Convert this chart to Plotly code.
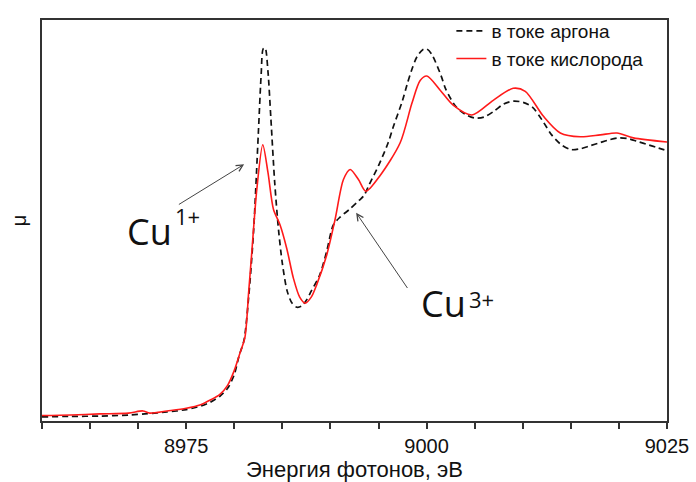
import plotly.graph_objects as go

# Cu K-edge XANES, normalized absorption
energy_ar = [8960, 8963, 8966, 8969, 8971, 8973, 8975, 8976.5, 8977.5, 8978.5, 8979.3,
             8980, 8980.5, 8981, 8981.5, 8982, 8982.5, 8982.8, 8983.0, 8983.2, 8983.5,
             8983.8, 8984.2, 8984.6, 8985.0, 8985.5, 8986.0, 8986.5, 8987.0, 8987.5,
             8988.0, 8988.9, 8989.6, 8990.3, 8991.0, 8992.0, 8993.0, 8993.5, 8994.0,
             8995.0, 8996.0, 8996.5, 8997.5, 8998.0, 8998.5, 8999.0, 8999.6, 9000.0,
             9000.5, 9001.5, 9002.0, 9003.0, 9004.0, 9005.0, 9006.0, 9007.0, 9008.0,
             9009.0, 9010.0, 9011.0, 9012.0, 9013.0, 9014.0, 9015.0, 9016.0, 9017.0,
             9018.0, 9019.0, 9020.0, 9021.0, 9022.0, 9023.0, 9024.0, 9025.0]
mu_ar = [-0.007, -0.005, -0.004, 0.000, 0.005, 0.011, 0.020, 0.033, 0.047, 0.069, 0.098,
         0.149, 0.218, 0.273, 0.436, 0.673, 1.036, 1.255, 1.345, 1.349, 1.262,
         1.091, 0.855, 0.680, 0.556, 0.455, 0.411, 0.396, 0.400, 0.422,
         0.455, 0.516, 0.600, 0.698, 0.727, 0.756, 0.789, 0.807, 0.844,
         0.916, 1.000, 1.055, 1.156, 1.218, 1.273, 1.316, 1.342, 1.345,
         1.327, 1.247, 1.196, 1.135, 1.105, 1.091, 1.095, 1.116, 1.142,
         1.153, 1.149, 1.131, 1.084, 1.029, 0.993, 0.975, 0.978, 0.989,
         1.000, 1.011, 1.018, 1.015, 1.004, 0.993, 0.982, 0.971]

energy_o2 = [8960, 8963, 8966, 8969, 8970.5, 8971.2, 8973, 8975, 8976.5, 8977.5, 8978.5,
             8979.3, 8980, 8980.6, 8981.1, 8981.5, 8981.8, 8982.34, 8982.96, 8983.5,
             8984.07, 8984.76, 8985.46, 8986.15, 8986.8, 8987.37, 8988.0, 8988.58,
             8989.62, 8990.49, 8991.35, 8992.05, 8992.91, 8993.68, 8995.17, 8997.25,
             8998.47, 8999.33, 9000.03, 9001.41, 9002.76, 9004.71, 9006.93, 9009.0,
             9010.26, 9012.13, 9013.9, 9015.98, 9018.06, 9019.8, 9021.5, 9025.0]
mu_o2 = [-0.002, 0.000, 0.004, 0.007, 0.015, 0.007, 0.015, 0.025, 0.038, 0.055, 0.076,
         0.109, 0.164, 0.229, 0.284, 0.455, 0.589, 0.829, 0.993, 0.891,
         0.756, 0.698, 0.611, 0.502, 0.433, 0.411, 0.433, 0.480,
         0.589, 0.720, 0.865, 0.902, 0.865, 0.822, 0.880, 1.000,
         1.145, 1.229, 1.245, 1.193, 1.138, 1.102, 1.156, 1.200,
         1.189, 1.098, 1.036, 1.022, 1.029, 1.036, 1.018, 1.003]

series_names = ["в токе аргона", "в токе кислорода"]
x_ticks = list(range(8960, 9026, 5))
x_labels = ["8975", "9000", "9025"]

sans = "Liberation Sans, Arial"

fig = go.Figure()
fig.add_trace(go.Scatter(x=energy_ar, y=mu_ar, mode="lines", name=series_names[0],
                         line=dict(color="#111111", width=1.7, dash="6px,4px",
                                   shape="spline", smoothing=0.8)))
fig.add_trace(go.Scatter(x=energy_o2, y=mu_o2, mode="lines", name=series_names[1],
                         line=dict(color="#ff1a1a", width=1.6,
                                   shape="spline", smoothing=0.8)))

ticktext = [str(v) if str(v) in x_labels else "" for v in x_ticks]

fig.update_xaxes(range=[8960, 9025], tickvals=x_ticks, ticktext=ticktext,
                 ticks="outside", ticklen=6, tickwidth=1.5, tickcolor="#333",
                 showline=True, linewidth=2, linecolor="#333", mirror=True,
                 showgrid=False, zeroline=False, automargin=False,
                 tickfont=dict(family=sans, size=20, color="#111"),
                 title=dict(text="Энергия фотонов, эВ",
                            font=dict(family=sans, size=22, color="#111"),
                            standoff=6))
fig.update_yaxes(range=[-0.022, 1.451], showticklabels=False, ticks="",
                 showline=True, linewidth=2, linecolor="#333", mirror=True,
                 showgrid=False, zeroline=False, automargin=False,
                 title=dict(text="μ", font=dict(family=sans, size=20, color="#111"),
                            standoff=8))

label_font = dict(family="Open Sans, Noto Sans, Arial", size=36, color="#111")
sup_font = dict(family="Open Sans, Noto Sans, Arial", size=22, color="#111")

# Cu(I) label and arrow to the pre-edge peak
fig.add_annotation(x=8971.13, y=0.673, text="Cu", showarrow=False, font=label_font)
fig.add_annotation(x=8975.1, y=0.731, text="1+", showarrow=False, font=sup_font)
fig.add_annotation(x=8981.02, y=0.921, ax=8974.08, ay=0.770, axref="x", ayref="y",
                   text="", showarrow=True, arrowhead=5, arrowsize=1.3,
                   arrowwidth=1, arrowcolor="#444")

# Cu(III) label and arrow to the shoulder
fig.add_annotation(x=9001.8, y=0.411, text="Cu", showarrow=False, font=label_font)
fig.add_annotation(x=9005.7, y=0.426, text="3+", showarrow=False, font=sup_font)
fig.add_annotation(x=8992.67, y=0.743, ax=8998.11, ay=0.461, axref="x", ayref="y",
                   text="", showarrow=True, arrowhead=5, arrowsize=1.3,
                   arrowwidth=1, arrowcolor="#444")

fig.update_layout(width=696, height=482,
                  margin=dict(l=42, r=29, t=16, b=61),
                  paper_bgcolor="white", plot_bgcolor="white",
                  showlegend=True,
                  legend=dict(x=0.655, y=1.02, xanchor="left", yanchor="top",
                              bgcolor="rgba(0,0,0,0)", borderwidth=0,
                              font=dict(family=sans, size=19, color="#111"),
                              tracegroupgap=0, itemwidth=30))

fig.write_html("out.html")
